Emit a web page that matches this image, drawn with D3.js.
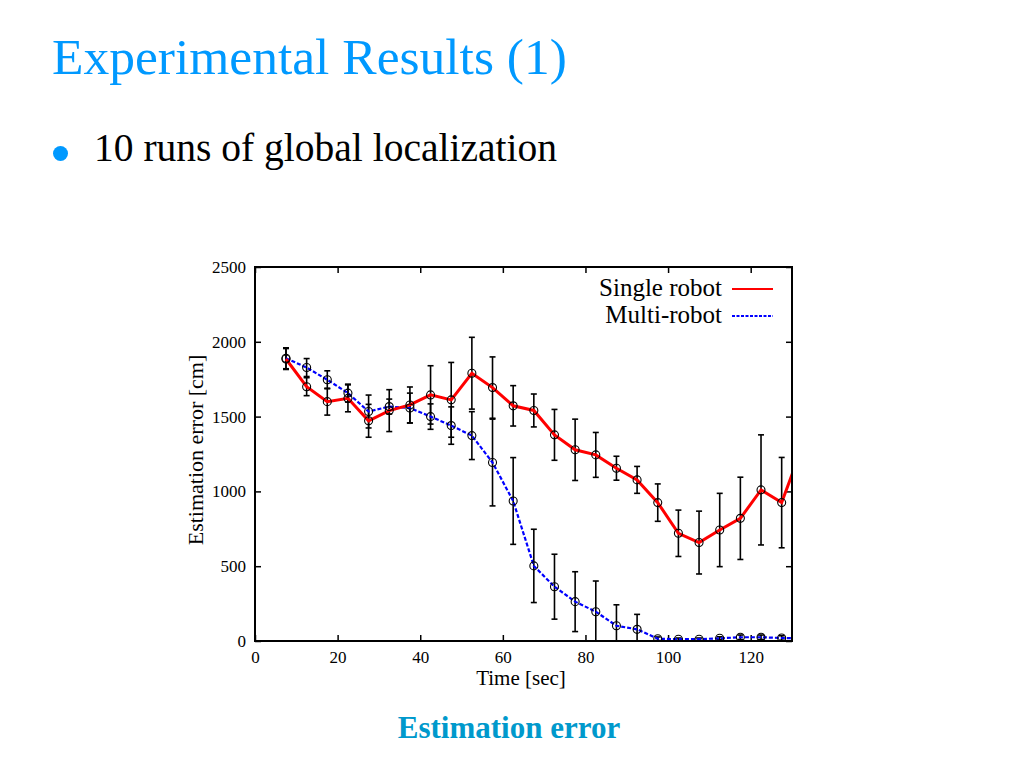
<!DOCTYPE html>
<html lang="en">
<head>
    <meta charset="UTF-8">
    <title>Experimental Results (1)</title>
    <script src="https://d3js.org/d3.v7.min.js"></script>
    <style>
        html, body {
            margin: 0;
            padding: 0;
            background: #ffffff;
        }
        svg {
            display: block;
        }
    </style>
</head>
<body>
    <svg id="chart" width="1024" height="768"></svg>

    <script>
        var SERIF = "Liberation Serif, Times New Roman, serif";

        // time in seconds (last point sits just past the right edge and gets clipped)
        var times = [7.5, 12.5, 17.5, 22.5, 27.5, 32.5, 37.5, 42.5, 47.5, 52.5, 57.5, 62.5, 67.5,
                     72.5, 77.5, 82.5, 87.5, 92.5, 97.5, 102.5, 107.5, 112.5, 117.5, 122.5, 127.5, 132.5];

        var singleMean = [1885, 1700, 1600, 1622, 1472, 1540, 1578, 1645, 1612, 1790, 1694, 1572, 1541,
                          1378, 1278, 1244, 1155, 1077, 925, 720, 658, 742, 820, 1010, 925, 1300];
        var singleErr  = [70, 60, 90, 90, 110, 140, 120, 195, 250, 240, 205, 135, 110,
                          170, 205, 150, 80, 90, 125, 155, 210, 245, 275, 368, 302, 300];

        var multiMean  = [1890, 1828, 1746, 1657, 1534, 1567, 1557, 1500, 1440, 1373, 1193, 936, 502,
                          363, 263, 196, 102, 78, 15, 12, 12, 18, 25, 25, 20, 18];
        var multiErr   = [70, 60, 60, 60, 110, 50, 100, 85, 125, 160, 290, 290, 245,
                          217, 200, 205, 140, 100, 12, 8, 8, 10, 15, 15, 15, 10];

        var xTicks = [0, 20, 40, 60, 80, 100, 120];
        var yTicks = [0, 500, 1000, 1500, 2000, 2500];

        var series = [
            { name: "Single robot", mean: singleMean, err: singleErr, color: "#ff0000", width: 3, dash: null },
            { name: "Multi-robot", mean: multiMean, err: multiErr, color: "#0000ff", width: 2.2, dash: "4,2" }
        ];

        var svg = d3.select("#chart").attr("font-family", SERIF);

        // slide texts
        svg.append("text")
            .attr("x", 52).attr("y", 74)
            .attr("font-family", SERIF)
            .attr("font-size", 51.5)
            .attr("fill", "#0099ff")
            .text("Experimental Results (1)");

        svg.append("circle")
            .attr("cx", 60.5).attr("cy", 153.5).attr("r", 7.5)
            .attr("fill", "#0099ff");

        svg.append("text")
            .attr("x", 94).attr("y", 161)
            .attr("font-family", SERIF)
            .attr("font-size", 39.5)
            .attr("fill", "#000")
            .text("10 runs of global localization");

        svg.append("text")
            .attr("x", 509).attr("y", 738)
            .attr("text-anchor", "middle")
            .attr("font-family", SERIF)
            .attr("font-size", 31)
            .attr("font-weight", "bold")
            .attr("fill", "#0099cc")
            .text("Estimation error");

        // plot area
        var margin = {top: 267, left: 255},
            width = 537,
            height = 374;

        var x = d3.scaleLinear().domain([0, 130]).range([0, width]),
            y = d3.scaleLinear().domain([0, 2500]).range([height, 0]);

        var g = svg.append("g")
            .attr("transform", "translate(" + margin.left + "," + margin.top + ")");

        g.append("clipPath").attr("id", "clip")
            .append("rect").attr("width", width).attr("height", height);

        var tickSize = 6;

        // axes with inward ticks, mirrored on top and right
        var axisStyle = function(sel) {
            sel.select(".domain").remove();
            sel.selectAll(".tick line").attr("stroke", "#000").attr("stroke-width", 1.5);
            sel.selectAll(".tick text")
                .attr("font-family", SERIF)
                .attr("font-size", 17)
                .attr("fill", "#000");
        };

        g.append("g")
            .attr("transform", "translate(0," + height + ")")
            .call(d3.axisBottom(x).tickValues(xTicks).tickSize(-tickSize).tickPadding(10).tickFormat(d3.format("d")))
            .call(axisStyle);

        g.append("g")
            .call(d3.axisTop(x).tickValues(xTicks).tickSize(-tickSize).tickFormat(""))
            .call(axisStyle);

        g.append("g")
            .call(d3.axisLeft(y).tickValues(yTicks).tickSize(-tickSize).tickPadding(9).tickFormat(d3.format("d")))
            .call(axisStyle);

        g.append("g")
            .attr("transform", "translate(" + width + ",0)")
            .call(d3.axisRight(y).tickValues(yTicks).tickSize(-tickSize).tickFormat(""))
            .call(axisStyle);

        // axis titles
        g.append("text")
            .attr("x", 266).attr("y", height + 44)
            .attr("text-anchor", "middle")
            .attr("font-family", SERIF)
            .attr("font-size", 21)
            .text("Time [sec]");

        g.append("text")
            .attr("transform", "translate(-52," + (height / 2 - 4) + ") rotate(-90)")
            .attr("text-anchor", "middle")
            .attr("font-family", SERIF)
            .attr("font-size", 22)
            .text("Estimation error [cm]");

        var plot = g.append("g").attr("clip-path", "url(#clip)");

        // error bars
        series.forEach(function(s) {
            var pts = times.map(function(t, i) { return {t: t, m: s.mean[i], e: s.err[i]}; });
            var bars = plot.append("g").attr("stroke", "#000").attr("stroke-width", 1.6);
            pts.forEach(function(d) {
                var cx = x(d.t), y0 = y(d.m - d.e), y1 = y(d.m + d.e);
                bars.append("line").attr("x1", cx).attr("x2", cx).attr("y1", y0).attr("y2", y1);
                bars.append("line").attr("x1", cx - 3).attr("x2", cx + 3).attr("y1", y0).attr("y2", y0);
                bars.append("line").attr("x1", cx - 3).attr("x2", cx + 3).attr("y1", y1).attr("y2", y1);
            });
        });

        // lines
        series.slice().reverse().forEach(function(s) {
            var line = d3.line()
                .x(function(d, i) { return x(times[i]); })
                .y(function(d) { return y(d); });
            plot.append("path")
                .datum(s.mean)
                .attr("fill", "none")
                .attr("stroke", s.color)
                .attr("stroke-width", s.width)
                .attr("stroke-dasharray", s.dash)
                .attr("d", line);
        });

        // point markers
        series.forEach(function(s) {
            plot.selectAll(null)
                .data(s.mean)
                .enter().append("circle")
                .attr("cx", function(d, i) { return x(times[i]); })
                .attr("cy", function(d) { return y(d); })
                .attr("r", 4)
                .attr("fill", "none")
                .attr("stroke", "#000")
                .attr("stroke-width", 1.1);
        });

        // frame
        g.append("rect")
            .attr("width", width).attr("height", height)
            .attr("fill", "none")
            .attr("stroke", "#000")
            .attr("stroke-width", 2);

        // legend
        var legend = g.append("g");
        series.forEach(function(s, i) {
            var ly = 22 + i * 27;
            legend.append("text")
                .attr("x", 467).attr("y", ly + 7)
                .attr("text-anchor", "end")
                .attr("font-family", SERIF)
                .attr("font-size", 25)
                .text(s.name);
            legend.append("line")
                .attr("x1", 477).attr("x2", 518)
                .attr("y1", ly).attr("y2", ly)
                .attr("stroke", s.color)
                .attr("stroke-width", i === 0 ? 2.2 : 1.8)
                .attr("stroke-dasharray", i === 0 ? null : "3,1.5");
        });
    </script>
</body>
</html>
